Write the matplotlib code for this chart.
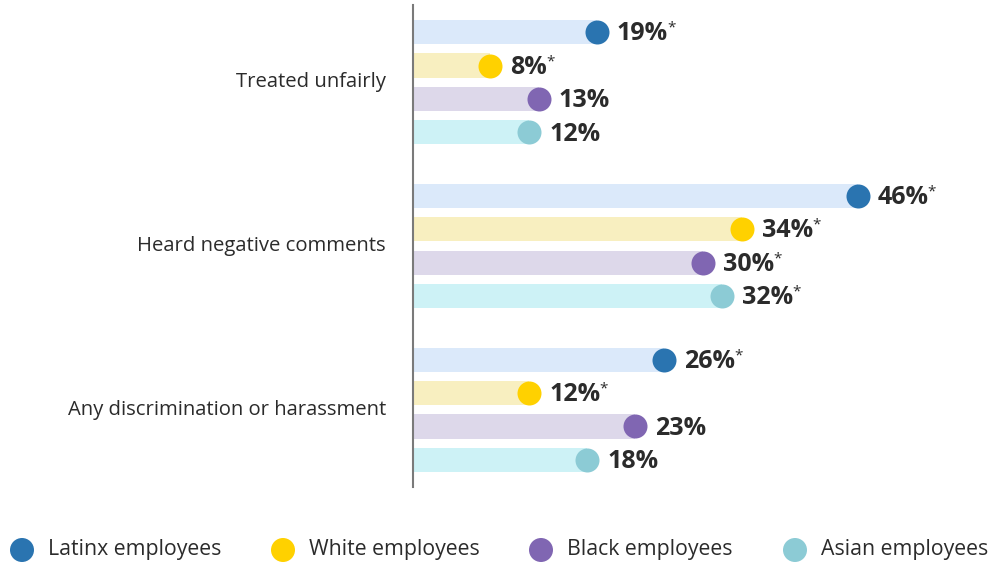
import matplotlib
matplotlib.use("Agg")
import matplotlib.pyplot as plt
from matplotlib.transforms import offset_copy

plt.rcParams['font.family'] = ['Open Sans', 'DejaVu Sans']

categories = ["Treated unfairly", "Heard negative comments", "Any discrimination or harassment"]
series = ["Latinx employees", "White employees", "Black employees", "Asian employees"]
values = {
    "Latinx employees": [19, 46, 26],
    "White employees": [8, 34, 12],
    "Black employees": [13, 30, 23],
    "Asian employees": [12, 32, 18],
}
significant = {
    "Latinx employees": [True, True, True],
    "White employees": [True, True, True],
    "Black employees": [False, True, False],
    "Asian employees": [False, True, False],
}
dot_colors = ["#2a74b0", "#ffd100", "#8066b2", "#8ccbd5"]
bar_colors = ["#dbe9fa", "#f8efc0", "#ddd8ea", "#cdf2f6"]
text_color = "#2b2b2b"

W, H = 990, 566
fig = plt.figure(figsize=(W / 100, H / 100), dpi=100)
ax_left, ax_right, ax_top, ax_bot = 413, 990, 5, 487
ax = fig.add_axes([ax_left / W, 1 - ax_bot / H, (ax_right - ax_left) / W, (ax_bot - ax_top) / H])

group_gap = 4.9
xmax = (ax_right - ax_left) / 9.67
ax.set_xlim(0, xmax)
ymax = 2 * group_gap + 3 + 0.81
ax.set_ylim(ymax, -0.81)

for s, name in enumerate(series):
    for g, cat in enumerate(categories):
        y = g * group_gap + s
        v = values[name][g]
        ax.barh(y, v, height=0.72, color=bar_colors[s], zorder=1)
        ax.scatter([v], [y], s=(24 * 0.72) ** 2, color=dot_colors[s], zorder=3, linewidths=0)
        tr = offset_copy(ax.transData, fig=fig, x=20 * 0.72, y=-1.2, units='points')
        t = ax.text(v, y, f"{v}%", transform=tr, ha='left', va='center',
                    fontsize=18, fontweight='bold', color=text_color)
        if significant[name][g]:
            fig.canvas.draw()
            bb = t.get_window_extent()
            fx = bb.x1 / W
            fy = bb.y1 / H
            fig.text(fx - 1 / W, fy - 7 / H, "*", ha='left', va='center', fontsize=11,
                     color=text_color)

for g, cat in enumerate(categories):
    yc = g * group_gap + 1.5
    ax.text(-27 / 9.67, yc, cat, ha='right', va='center', fontsize=14.6, color=text_color)

for sp in ['top', 'right', 'bottom']:
    ax.spines[sp].set_visible(False)
ax.spines['left'].set_color('#7a7a7a')
ax.spines['left'].set_linewidth(1.5)
ax.set_xticks([])
ax.set_yticks([])

# legend
leg_x = [22, 283, 541, 795]
leg_y = 550
for i, name in enumerate(series):
    fig.add_artist(matplotlib.patches.Ellipse((leg_x[i] / W, 1 - leg_y / H), 24 / W, 24 / H,
                                              transform=fig.transFigure, color=dot_colors[i], lw=0))
    fig.text((leg_x[i] + 26) / W, 1 - leg_y / H, name, ha='left', va='center', fontsize=15.3, color=text_color)

fig.savefig("out.png", dpi=100)
